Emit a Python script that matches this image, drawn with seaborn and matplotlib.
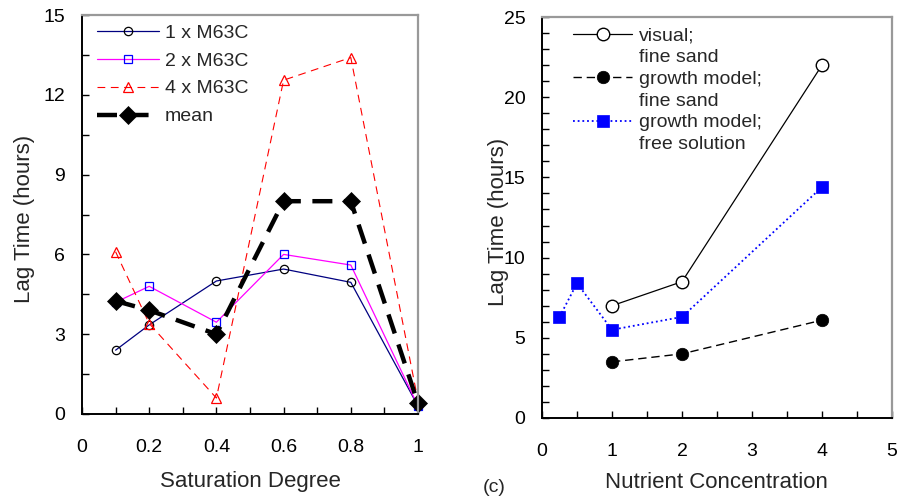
import matplotlib
matplotlib.use("Agg")
import matplotlib.pyplot as plt
import seaborn as sns
import numpy as np
import pandas as pd
from matplotlib.lines import Line2D
from matplotlib.ticker import MultipleLocator

# ---------------- data ----------------
sat = [0.1, 0.2, 0.4, 0.6, 0.8, 1.0]
lag_1x = [2.4, 3.35, 5.0, 5.45, 4.95, 0.3]
lag_2x = [4.2, 4.8, 3.45, 6.0, 5.6, 0.3]
lag_4x = [6.1, 3.4, 0.6, 12.55, 13.4, 0.5]
lag_mean = [4.25, 3.9, 3.0, 8.0, 8.0, 0.4]
left_labels = ["1 x M63C", "2 x M63C", "4 x M63C", "mean"]
left_xticks = [0, 0.2, 0.4, 0.6, 0.8, 1]
left_xticklabels = ["0", "0.2", "0.4", "0.6", "0.8", "1"]
left_yticks = [0, 3, 6, 9, 12, 15]

conc_sand = [1, 2, 4]
visual_sand = [7.0, 8.5, 22.0]
growth_sand = [3.5, 4.0, 6.1]
conc_free = [0.25, 0.5, 1, 2, 4]
growth_free = [6.3, 8.4, 5.5, 6.3, 14.4]
# legend text lines (series label lines, with wrapped continuation lines)
right_label_lines = ["visual;", "fine sand", "growth model;", "fine sand",
                     "growth model;", "free solution"]
right_xticks = [0, 1, 2, 3, 4, 5]
right_yticks = [0, 5, 10, 15, 20, 25]

# ---------------- style ----------------
sns.set_style("ticks")
plt.rcParams["font.family"] = ["Liberation Sans", "DejaVu Sans"]
plt.rcParams["axes.linewidth"] = 1.4

fig = plt.figure(figsize=(9.03, 4.97), dpi=100)
W, H = 903, 497


def axes_px(l, t, r, b):
    return fig.add_axes([l / W, 1 - b / H, (r - l) / W, (b - t) / H])


ax1 = axes_px(82, 15, 418, 414)
ax2 = axes_px(542, 17, 892, 418)

TICK = 14
LAB = 16

# ---------------- left panel ----------------
sns.lineplot(x=sat, y=lag_1x, ax=ax1, color="#000080", linewidth=0.9, marker="o",
             markersize=6, markerfacecolor="none", markeredgecolor="black",
             markeredgewidth=0.9, errorbar=None, legend=False, clip_on=False)
sns.lineplot(x=sat, y=lag_2x, ax=ax1, color="#FF00FF", linewidth=0.9, marker="s",
             markersize=6, markerfacecolor="none", markeredgecolor="#0000FF",
             markeredgewidth=0.9, errorbar=None, legend=False, clip_on=False)
sns.lineplot(x=sat, y=lag_4x, ax=ax1, color="#FF0000", linewidth=0.8, marker="^",
             markersize=7, markerfacecolor="none", markeredgecolor="#FF0000",
             markeredgewidth=0.9, linestyle=(0, (7, 5)), errorbar=None,
             legend=False, clip_on=False)
sns.lineplot(x=sat, y=lag_mean, ax=ax1, color="black", linewidth=3.2, marker="D",
             markersize=9.5, markerfacecolor="black", markeredgecolor="black",
             markeredgewidth=0.5, linestyle=(0, (4.5, 2.6)), errorbar=None,
             legend=False, clip_on=False)

ax1.set_xlim(0, 1)
ax1.set_ylim(0, 15)
ax1.set_xticks(left_xticks)
ax1.set_xticklabels(left_xticklabels)
ax1.set_yticks(left_yticks)
ax1.xaxis.set_minor_locator(MultipleLocator(0.1))
ax1.yaxis.set_minor_locator(MultipleLocator(1.5))
ax1.set_xlabel("Saturation Degree", fontsize=LAB)
ax1.set_ylabel("Lag Time (hours)", fontsize=LAB)

lines1 = ax1.get_lines()[:4]
leg1 = ax1.legend(handles=list(lines1), labels=left_labels,
                  loc="upper left", bbox_to_anchor=(0.045, 0.9775), frameon=False,
                  fontsize=TICK, handlelength=3.2, handletextpad=0.3,
                  labelspacing=0.53, borderpad=0, borderaxespad=0)

# ---------------- right panel ----------------
sns.lineplot(x=conc_sand, y=visual_sand, ax=ax2, color="black", linewidth=0.9,
             marker="o", markersize=9, markerfacecolor="white",
             markeredgecolor="black", markeredgewidth=1.0, errorbar=None,
             legend=False, clip_on=False)
sns.lineplot(x=conc_sand, y=growth_sand, ax=ax2, color="black", linewidth=1.0,
             marker="o", markersize=9, markerfacecolor="black",
             markeredgecolor="black", markeredgewidth=0.5,
             linestyle=(0, (6, 3.5)), errorbar=None, legend=False, clip_on=False)
sns.lineplot(x=conc_free, y=growth_free, ax=ax2, color="#0000FF", linewidth=1.3,
             marker="s", markersize=8.5, markerfacecolor="#0000FF",
             markeredgecolor="#0000FF", markeredgewidth=0.5,
             linestyle=(0, (1, 1.6)), errorbar=None, legend=False, clip_on=False)

ax2.set_xlim(0, 5)
ax2.set_ylim(0, 25)
ax2.set_xticks(right_xticks)
ax2.set_yticks(right_yticks)
ax2.xaxis.set_minor_locator(MultipleLocator(0.5))
ax2.yaxis.set_minor_locator(MultipleLocator(1))
ax2.set_xlabel("Nutrient Concentration", fontsize=LAB)
ax2.set_ylabel("Lag Time (hours)", fontsize=LAB)

l_vis, l_gs, l_gf = ax2.get_lines()[:3]
blank = Line2D([], [], linestyle="none")
leg2 = ax2.legend(handles=[l_vis, blank, l_gs, blank, l_gf, blank],
                  labels=right_label_lines,
                  loc="upper left", bbox_to_anchor=(0.09, 0.975), frameon=False,
                  fontsize=TICK, handlelength=3.0, handletextpad=0.35,
                  labelspacing=0.21, borderpad=0, borderaxespad=0)

# ---------------- common styling ----------------
for ax, ycoord in ((ax1, (-0.17, 0.49)), (ax2, (-0.123, 0.49))):
    ax.tick_params(which="both", direction="in", length=5, width=1.0,
                   colors="black", labelsize=TICK)
    ax.tick_params(axis="x", which="both", pad=18, top=False)
    ax.tick_params(axis="y", which="both", pad=12, right=False)
    for s in ("top", "right"):
        ax.spines[s].set_color("#999999")
        ax.spines[s].set_linewidth(1.6)
        ax.spines[s].set_visible(True)
    for s in ("left", "bottom"):
        ax.spines[s].set_color("black")
    ax.yaxis.set_label_coords(*ycoord)
    ax.yaxis.label.set_va("center")

ax1.xaxis.set_label_coords(0.5, -0.168)
ax1.xaxis.label.set_va("center")
ax2.xaxis.set_label_coords(0.4986, -0.162)
ax2.xaxis.label.set_va("center")

fig.text(483 / W, 1 - 488 / H, "(c)", fontsize=TICK, va="center", ha="left")

fig.savefig("out.png", dpi=100)
